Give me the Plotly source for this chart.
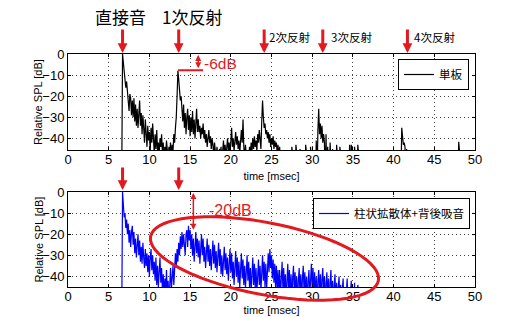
import math
import plotly.graph_objects as go

# ---------------- data ----------------
# sampling starts at 6.0 ms, 0.1 ms step
t_start = 6.0
t_step = 0.1

spl_single = [
    -60, -60, -60, -60, -60, -60, -60, 0, -5, -10,
    -12, -16, -13, -18, -24, -27, -19, -21, -29, -22,
    -30, -21, -32, -24, -34, -26, -35, -27, -22, -34,
    -28, -38, -29, -35, -42, -31, -38, -44, -34, -41,
    -37, -46, -35, -42, -33, -44, -47, -38, -45, -36,
    -46, -42, -48, -40, -44, -38, -47, -42, -50, -44,
    -48, -41, -46, -50, -44, -47, -42, -49, -43, -46,
    -38, -42, -35, -30, -20, -8, -12, -18, -22, -20,
    -26, -32, -24, -35, -28, -38, -30, -26, -36, -29,
    -39, -30, -37, -27, -38, -31, -40, -32, -26, -37,
    -31, -37, -34, -40, -35, -38, -33, -40, -36, -42,
    -38, -44, -39, -36, -42, -39, -45, -40, -43, -48,
    -42, -46, -50, -44, -47, -52, -45, -48, -44, -50,
    -46, -41, -47, -43, -49, -45, -40, -46, -42, -48,
    -43, -35, -44, -40, -46, -41, -37, -43, -39, -45,
    -41, -47, -40, -36, -42, -31, -44, -49, -43, -47,
    -52, -46, -50, -44, -48, -42, -46, -40, -45, -39,
    -44, -41, -46, -38, -42, -36, -40, -45, -32, -22,
    -30, -35, -33, -38, -36, -40, -37, -42, -38, -44,
    -40, -43, -39, -45, -41, -44, -42, -47, -43, -49,
    -44, -50, -46, -52, -55, -60, -60, -60, -60, -60,
    -60, -60, -60, -60, -60, -44, -60, -60, -60, -60,
    -43, -60, -60, -60, -60, -45, -60, -60, -60, -60,
    -60, -60, -43, -60, -60, -60, -60, -60, -44, -60,
    -60, -60, -60, -60, -60, -41, -60, -36, -26, -38,
    -33, -40, -34, -42, -38, -42, -60, -38, -60, -44,
    -60, -60, -42, -60, -60, -45, -60, -60, -60, -60,
    -43, -60, -60, -60, -44, -60, -60, -60, -60, -60,
    -60, -60, -60, -60, -60, -60, -43, -60, -43, -60,
    -60, -60, -44, -60, -60, -60, -43, -60, -60, -60,
    -60, -60, -60, -60, -60, -60, -60, -60, -60, -60,
    -60, -60, -60, -60, -60, -60, -60, -60, -60, -60,
    -60, -60, -60, -60, -60, -60, -60, -60, -60, -60,
    -60, -60, -60, -60, -60, -60, -60, -60, -60, -60,
    -60, -60, -60, -60, -60, -60, -60, -60, -60, -60,
    -35, -40, -43, -42, -44, -60, -45, -60, -60, -60,
    -60, -60, -60, -60, -60, -60, -60, -60, -60, -60,
    -60, -60, -60, -60, -60, -60, -60, -60, -60, -60,
    -60, -60, -60, -60, -60, -60, -60, -60, -60, -60,
    -60, -60, -60, -60, -60, -60, -60, -60, -60, -60,
    -60, -60, -60, -60, -60, -60, -60, -60, -60, -60,
    -60, -60, -60, -60, -60, -60, -60, -60, -60, -60,
    -41.6, -60, -60, -60, -60, -60, -60, -60, -60, -60,
    -60, -60, -60, -60, -60, -60, -60, -60, -60, -60,
    -60,
]

spl_diffuser = [
    -60, -60, -60, -60, -60, -60, -60, 0, -8, -12,
    -10, -17, -13, -20, -15, -24, -18, -26, -19, -16,
    -25, -19, -29, -22, -31, -24, -20, -30, -23, -33,
    -26, -34, -24, -31, -36, -27, -35, -29, -38, -30,
    -40, -31, -27, -37, -30, -39, -33, -42, -31, -44,
    -35, -45, -38, -31, -43, -36, -47, -39, -50, -41,
    -47, -37, -49, -42, -52, -40, -36, -46, -39, -35,
    -44, -33, -29, -36, -27, -33, -24, -30, -21, -27,
    -19, -26, -20, -25, -30, -20, -18, -26, -16, -23,
    -18, -27, -20, -30, -22, -33, -24, -19, -29, -22,
    -31, -23, -34, -25, -20, -30, -22, -33, -26, -36,
    -27, -22, -33, -25, -35, -27, -37, -28, -23, -34,
    -25, -36, -28, -38, -29, -24, -35, -27, -39, -30,
    -40, -30, -26, -37, -29, -39, -31, -42, -32, -27,
    -38, -29, -41, -33, -44, -34, -28, -40, -31, -43,
    -33, -45, -35, -29, -41, -32, -44, -35, -46, -36,
    -30, -42, -33, -45, -36, -47, -37, -31, -44, -34,
    -46, -36, -48, -38, -32, -44, -35, -47, -37, -30,
    -42, -33, -45, -34, -46, -36, -29, -38, -27, -36,
    -30, -41, -32, -43, -34, -45, -35, -47, -37, -49,
    -37, -50, -39, -33, -46, -36, -48, -39, -51, -40,
    -34, -47, -37, -50, -39, -52, -41, -35, -48, -38,
    -51, -40, -54, -42, -36, -49, -39, -52, -41, -35,
    -48, -38, -51, -40, -54, -42, -37, -50, -39, -34,
    -46, -36, -49, -38, -52, -40, -55, -42, -37, -50,
    -39, -53, -41, -36, -50, -40, -55, -43, -38, -52,
    -41, -56, -43, -37, -51, -42, -57, -44, -39, -53,
    -43, -58, -45, -40, -54, -44, -59, -46, -41, -55,
    -45, -60, -47, -41, -56, -46, -60, -48, -42, -57,
    -47, -60, -43, -55, -46, -60, -44, -58, -60, -60,
    -60, -60, -60, -60, -60, -60, -60, -60, -60, -60,
    -60, -60, -60, -60, -60, -60, -60, -60, -60, -60,
    -60, -60, -60, -60, -60, -60, -60, -60, -60, -60,
    -60, -60, -60, -60, -60, -60, -60, -60, -60, -60,
    -60, -60, -60, -60, -60, -60, -60, -60, -60, -60,
    -60, -60, -60, -60, -60, -60, -60, -60, -60, -60,
    -60, -60, -60, -60, -60, -60, -60, -60, -60, -60,
    -60, -60, -60, -60, -60, -60, -60, -60, -60, -60,
    -60, -60, -60, -60, -60, -60, -60, -60, -60, -60,
    -60, -60, -60, -60, -60, -60, -60, -60, -60, -60,
    -60, -60, -60, -60, -60, -60, -60, -60, -60, -60,
    -60, -60, -60, -60, -60, -60, -60, -60, -60, -60,
    -60, -60, -60, -60, -60, -60, -60, -60, -60, -60,
    -60, -60, -60, -60, -60, -60, -60, -60, -60, -60,
    -60,
]

x_ticks = [0, 5, 10, 15, 20, 25, 30, 35, 40, 45, 50]
y_ticks = [0, -10, -20, -30, -40]

legend_single = "単板"
legend_diffuser = "柱状拡散体+背後吸音"
reflection_labels = ["直接音", "1次反射", "2次反射", "3次反射", "4次反射"]
reflection_times = [6.7, 13.6, 24.1, 31.3, 41.7]

time_single = [round(t_start + t_step * i, 1) for i in range(len(spl_single))]
time_diffuser = [round(t_start + t_step * i, 1) for i in range(len(spl_diffuser))]

# ---------------- layout helpers ----------------
W, H = 524, 317
PL, PR, PT, PB = 68, 475, 54, 287
RED = "#e3191f"
CJK = "Noto Sans CJK JP"
LAT = "Liberation Sans, Arial, sans-serif"


def xp(px):
    return (px - PL) / (PR - PL)


def yp(py):
    return (PB - py) / (PB - PT)


fig = go.Figure()
fig.add_trace(go.Scatter(x=time_single, y=spl_single, mode="lines",
                         line=dict(color="black", width=1.2), name=legend_single,
                         xaxis="x", yaxis="y", legend="legend"))
fig.add_trace(go.Scatter(x=time_diffuser, y=spl_diffuser, mode="lines",
                         line=dict(color="#0000ff", width=1.2), name=legend_diffuser,
                         xaxis="x2", yaxis="y2", legend="legend2"))

axis_common = dict(
    showline=True, linecolor="black", linewidth=1, mirror="ticks",
    ticks="inside", ticklen=3, tickcolor="black",
    showgrid=True, gridcolor="#444444", gridwidth=1, griddash="1px,3px",
    zeroline=False, tickfont=dict(family=LAT, size=13, color="black"),
    automargin=False,
)

top_dom = [yp(150), 1.0]
bot_dom = [0.0, yp(192)]

title_font = dict(family=LAT, size=11, color="black")

fig.update_layout(
    width=W, height=H,
    margin=dict(l=PL, r=W - PR, t=PT, b=H - PB),
    paper_bgcolor="white", plot_bgcolor="white",
    xaxis=dict(axis_common, domain=[0, 1], range=[0, 50], tickvals=x_ticks,
               anchor="y", ticklabelstandoff=-3,
               title=dict(text="time [msec]", font=title_font, standoff=6)),
    yaxis=dict(axis_common, domain=top_dom, range=[-45.5, 0], tickvals=y_ticks,
               anchor="x"),
    xaxis2=dict(axis_common, domain=[0, 1], range=[0, 50], tickvals=x_ticks,
                anchor="y2", ticklabelstandoff=-3,
                title=dict(text="time [msec]", font=title_font, standoff=2)),
    yaxis2=dict(axis_common, domain=bot_dom, range=[-45, 0], tickvals=y_ticks,
                anchor="x2"),
    legend=dict(x=xp(469), y=yp(59), xanchor="right", yanchor="top",
                bgcolor="white", bordercolor="black", borderwidth=1,
                font=dict(family=CJK, size=11.5, color="black"),
                itemwidth=30, tracegroupgap=0),
    legend2=dict(x=xp(470), y=yp(198), xanchor="right", yanchor="top",
                 bgcolor="white", bordercolor="black", borderwidth=1,
                 font=dict(family=CJK, size=11.5, color="black"),
                 itemwidth=30, tracegroupgap=0),
    showlegend=True,
)

annotations = []
# y-axis titles
for cy in [(54 + 150) / 2, (192 + 287) / 2]:
    annotations.append(dict(x=xp(38), y=yp(cy), xref="paper", yref="paper",
                            xanchor="center", yanchor="middle", textangle=-90,
                            text="Relative SPL [dB]", showarrow=False, font=title_font))

arrow_style = dict(text="", showarrow=True, ax=0, arrowcolor=RED,
                   arrowwidth=3, arrowhead=2, arrowsize=0.65)
# reflection arrows (top)
for t in reflection_times:
    annotations.append(dict(arrow_style, x=t, xref="x", y=yp(53), yref="paper", ay=-25))
# reflection arrows (bottom)
for t in reflection_times[:2]:
    annotations.append(dict(arrow_style, x=t, xref="x2", y=yp(190), yref="paper", ay=-24))
# labels
big = dict(family=CJK, size=17, color="black")
small = dict(family=CJK, size=11.5, color="black")
annotations.append(dict(x=xp(120.5), y=yp(16), xref="paper", yref="paper",
                        xanchor="center", yanchor="middle",
                        text=reflection_labels[0], showarrow=False, font=big))
annotations.append(dict(x=xp(192), y=yp(16), xref="paper", yref="paper",
                        xanchor="center", yanchor="middle",
                        text=reflection_labels[1], showarrow=False, font=big))
for lbl, cx in zip(reflection_labels[2:], [289, 351.5, 434]):
    annotations.append(dict(x=xp(cx), y=yp(37), xref="paper", yref="paper",
                            xanchor="center", yanchor="middle",
                            text=lbl, showarrow=False, font=small))

# -6dB marker
annotations.append(dict(x=16.0, y=-0.5, xref="x", yref="y", ax=16.0, ay=-7.5,
                        axref="x", ayref="y", text="", showarrow=True,
                        arrowside="end+start", arrowcolor=RED, arrowwidth=1.5,
                        arrowhead=2, arrowsize=0.8))
annotations.append(dict(x=xp(220), y=yp(64), xref="paper", yref="paper",
                        xanchor="center", yanchor="middle",
                        text="-6dB", showarrow=False,
                        font=dict(family=LAT, size=15.5, color=RED)))
# -20dB marker
annotations.append(dict(x=15.4, y=-0.5, xref="x2", yref="y2", ax=15.4, ay=-18.6,
                        axref="x2", ayref="y2", text="", showarrow=True,
                        arrowside="end+start", arrowcolor=RED, arrowwidth=1.5,
                        arrowhead=2, arrowsize=0.8))
annotations.append(dict(x=xp(230.5), y=yp(210.5), xref="paper", yref="paper",
                        xanchor="center", yanchor="middle",
                        text="-20dB", showarrow=False,
                        font=dict(family=LAT, size=16, color=RED)))
fig.update_layout(annotations=annotations)

shapes = []
shapes.append(dict(type="line", xref="x", yref="y", x0=13.5, x1=16.6, y0=-7.7, y1=-7.7,
                   line=dict(color=RED, width=2)))
# ellipse highlight (pixel geometry -> paper path)
cx, cy, a, b, th = 264.5, 258.5, 116.0, 36.0, math.radians(11)
pts = []
for k in range(73):
    phi = 2 * math.pi * k / 72
    px = cx + a * math.cos(phi) * math.cos(th) - b * math.sin(phi) * math.sin(th)
    py = cy + a * math.cos(phi) * math.sin(th) + b * math.sin(phi) * math.cos(th)
    pts.append(f"{xp(px):.5f},{yp(py):.5f}")
path = "M " + " L ".join(pts) + " Z"
shapes.append(dict(type="path", xref="paper", yref="paper", path=path,
                   line=dict(color=RED, width=3)))
fig.update_layout(shapes=shapes)

fig.write_html("out.html")
